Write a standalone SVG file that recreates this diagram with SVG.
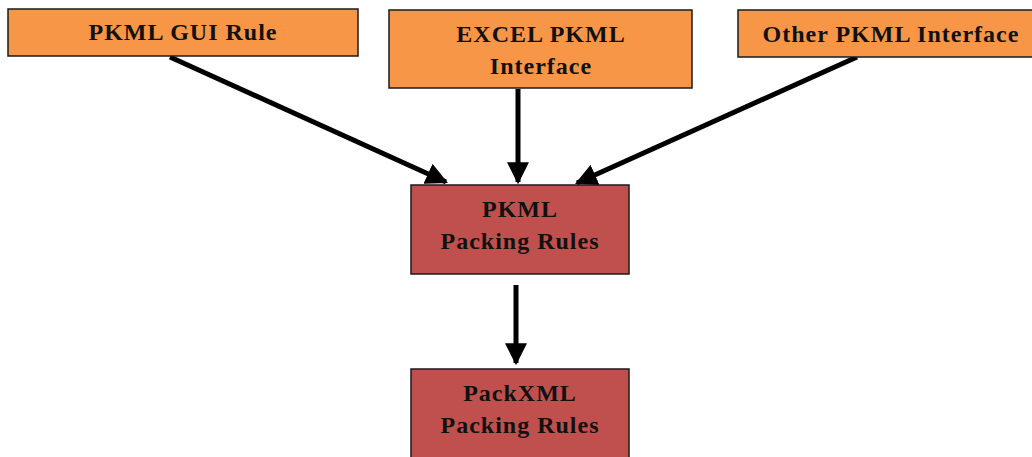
<svg xmlns="http://www.w3.org/2000/svg" width="1032" height="457" viewBox="0 0 1032 457">
  <defs>
    <style>
      .src { fill: #F79646; stroke: #1a1a1a; stroke-width: 1.5; }
      .rule { fill: #C0504D; stroke: #1a1a1a; stroke-width: 1.5; }
      .lbl { font-family: "Liberation Serif", "Times New Roman", serif; font-weight: bold; font-size: 24px; letter-spacing: 1px; fill: #111; text-anchor: middle; }
      .edge { stroke: #000; stroke-width: 5; fill: none; marker-end: url(#head); }
    </style>
    <marker id="head" viewBox="0 0 10 10" refX="9" refY="5" markerWidth="4.4" markerHeight="4.4" markerUnits="strokeWidth" orient="auto">
      <path d="M0,0 L10,5 L0,10 z" fill="#000"/>
    </marker>
  </defs>
  <rect width="1032" height="457" fill="#fff"/>

  <g id="connectors">
    <line class="edge" x1="170" y1="57" x2="446" y2="182"/>
    <line class="edge" x1="518" y1="89" x2="518" y2="182"/>
    <line class="edge" x1="857" y1="57" x2="577" y2="183"/>
    <line class="edge" x1="516" y1="285" x2="516" y2="363"/>
  </g>

  <g id="pkml-gui-rule">
    <rect class="src" x="8" y="9" width="350" height="47"/>
    <text class="lbl" x="183" y="40">PKML GUI Rule</text>
  </g>

  <g id="excel-pkml-interface">
    <rect class="src" x="389" y="10" width="303" height="78"/>
    <text class="lbl" x="541" y="42">EXCEL PKML</text>
    <text class="lbl" x="541" y="74">Interface</text>
  </g>

  <g id="other-pkml-interface">
    <rect class="src" x="738" y="10" width="298" height="47"/>
    <text class="lbl" x="891" y="42">Other PKML Interface</text>
  </g>

  <g id="pkml-packing-rules">
    <rect class="rule" x="411" y="185" width="218" height="89"/>
    <text class="lbl" x="520" y="217">PKML</text>
    <text class="lbl" x="520" y="249">Packing Rules</text>
  </g>

  <g id="packxml-packing-rules">
    <rect class="rule" x="411" y="369" width="218" height="100"/>
    <text class="lbl" x="520" y="401">PackXML</text>
    <text class="lbl" x="520" y="433">Packing Rules</text>
  </g>
</svg>
